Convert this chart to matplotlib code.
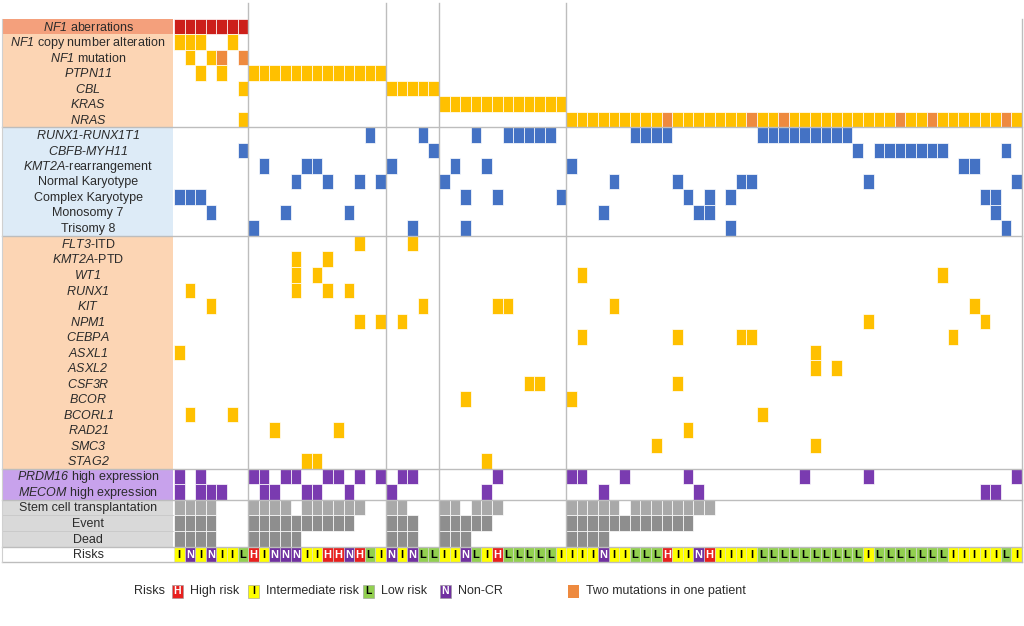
import matplotlib
matplotlib.use("Agg")
import matplotlib.pyplot as plt
from matplotlib.patches import Rectangle

plt.rcParams['font.family'] = ['Liberation Sans', 'DejaVu Sans']
# everything inside $...$ is a gene name -> italic (digits too)
plt.rcParams['mathtext.fontset'] = 'custom'
plt.rcParams['mathtext.it'] = 'Liberation Sans:italic'
plt.rcParams['mathtext.rm'] = 'Liberation Sans:italic'

# patients are grouped as NF1 | PTPN11 | CBL | KRAS | NRAS  (7/13/5/12/43)
n_patients = 80
group_sizes = [7, 13, 5, 12, 43]

# x = alteration, o = two mutations in one patient, r = NF1 aberration
ras_labels = ["$\\mathrm{NF1}$ aberrations", "$\\mathrm{NF1}$ copy number alteration",
              "$\\mathrm{NF1}$ mutation", "$\\mathrm{PTPN11}$", "$\\mathrm{CBL}$",
              "$\\mathrm{KRAS}$", "$\\mathrm{NRAS}$"]
ras_rows = [
    "rrrrrrr|.............|.....|............|...........................................",
    "xxx..x.|.............|.....|............|...........................................",
    ".x.xo.o|.............|.....|............|...........................................",
    "..x.x..|xxxxxxxxxxxxx|.....|............|...........................................",
    "......x|.............|xxxxx|............|...........................................",
    ".......|.............|.....|xxxxxxxxxxxx|...........................................",
    "......x|.............|.....|............|xxxxxxxxxoxxxxxxxoxxoxxxxxxxxxxoxxoxxxxxxox",
]

cyto_labels = ["$\\mathrm{RUNX1}$-$\\mathrm{RUNX1T1}$", "$\\mathrm{CBFB}$-$\\mathrm{MYH11}$",
               "$\\mathrm{KMT2A}$-rearrangement", "Normal Karyotype", "Complex Karyotype",
               "Monosomy 7", "Trisomy 8"]
cyto_rows = [
    ".......|...........x.|...x.|...x..xxxxx.|......xxxx........xxxxxxxxx................",
    "......x|.............|....x|............|...........................x.xxxxxxx.....x.",
    ".......|.x...xx......|x....|.x..x.......|x....................................xx....",
    ".......|....x..x..x.x|.....|x...........|....x.....x.....xx..........x.............x",
    "xxx....|.............|.....|..x..x.....x|...........x.x.x.......................xx..",
    "...x...|...x.....x...|.....|............|...x........xx..........................x..",
    ".......|x............|..x..|..x.........|...............x.........................x.",
]

mut_labels = ["$\\mathrm{FLT3}$-ITD", "$\\mathrm{KMT2A}$-PTD", "$\\mathrm{WT1}$", "$\\mathrm{RUNX1}$",
              "$\\mathrm{KIT}$", "$\\mathrm{NPM1}$", "$\\mathrm{CEBPA}$", "$\\mathrm{ASXL1}$",
              "$\\mathrm{ASXL2}$", "$\\mathrm{CSF3R}$", "$\\mathrm{BCOR}$", "$\\mathrm{BCORL1}$",
              "$\\mathrm{RAD21}$", "$\\mathrm{SMC3}$", "$\\mathrm{STAG2}$"]
mut_rows = [
    ".......|..........x..|..x..|............|...........................................",
    ".......|....x..x.....|.....|............|...........................................",
    ".......|....x.x......|.....|............|.x.................................x.......",
    ".x.....|....x..x.x...|.....|............|...........................................",
    "...x...|.............|...x.|.....xx.....|....x.................................x....",
    ".......|..........x.x|.x...|............|............................x..........x...",
    ".......|.............|.....|............|.x........x.....xx..................x......",
    "x......|.............|.....|............|.......................x...................",
    ".......|.............|.....|............|.......................x.x.................",
    ".......|.............|.....|........xx..|..........x................................",
    ".......|.............|.....|..x.........|x..........................................",
    ".x...x.|.............|.....|............|..................x........................",
    ".......|..x.....x....|.....|............|...........x...............................",
    ".......|.............|.....|............|........x..............x...................",
    ".......|.....xx......|.....|....x.......|...........................................",
]

expr_labels = ["$\\mathrm{PRDM16}$ high expression", "$\\mathrm{MECOM}$ high expression"]
expr_rows = [
    "x.x....|xx.xx..xx.x.x|.xx..|.....x......|xx...x.....x..........x.....x.............x",
    "x.xxx..|.xx..xx..x...|x....|....x.......|...x........x..........................xx..",
]

clin_labels = ["Stem cell transplantation", "Event", "Dead"]
clin_rows = [
    "xxxx...|xxxx.xxxxxx..|xx...|xx.xxx......|xxxxx.xxxxxxxx.............................",
    "xxxx...|xxxxxxxxxx...|xxx..|xxxxx.......|xxxxxxxxxxxx...............................",
    "xxxx...|xxxxx........|xxx..|xxx.........|xxxx.......................................",
]

# H = high, I = intermediate, L = low, N = non-CR
risks = "ININIIL|HINNNIIHHNHLI|NINLL|IINLIHLLLLLI|IIINIILLLHIINHIIIILLLLLLLLLLILLLLLLLIIIIILI"


def parse(s):
    s = s.replace('|', '')
    assert len(s) == n_patients, (len(s), s)
    return s


sections = [
    (ras_labels, ras_rows, '#FFC000', '#FCD5B4'),
    (cyto_labels, cyto_rows, '#4472C4', '#DDEBF7'),
    (mut_labels, mut_rows, '#FFC000', '#FCD5B4'),
    (expr_labels, expr_rows, '#7A3BB0', '#C8A2EC'),
    (clin_labels, clin_rows, '#8E8E8E', '#D9D9D9'),
]

fig = plt.figure(figsize=(10.24, 6.26), dpi=100)
ax = fig.add_axes([0, 0, 1, 1])
cw, rh, x0, y0 = 10.6, 15.53, 174, 18.5
ax.set_xlim(-x0 / cw, (1024 - x0) / cw)
ax.set_ylim((626 - y0) / rh, -y0 / rh)
ax.axis('off')

label_x = -8.1
panel_left = -16.2
txt_color = '#2b2b2b'

r = 0
for labels, rows, fill, bg in sections:
    for i, (lab, pat) in enumerate(zip(labels, rows)):
        pat = parse(pat)
        row_bg = '#F4A07C' if r == 0 else bg
        ax.add_patch(Rectangle((panel_left, r), -0.1 - panel_left, 1, facecolor=row_bg,
                               edgecolor='none'))
        colour = fill
        if labels is clin_labels and i == 0:
            colour = '#A9A9A9'
        for ch, c in (('x', colour), ('o', '#EE8A3F'), ('r', '#CC1F1A')):
            cols = [k for k, v in enumerate(pat) if v == ch]
            if cols:
                ax.bar(cols, 1, width=1, bottom=r, align='edge', color=c,
                       edgecolor='white', linewidth=0.5)
        ax.text(label_x, r + 0.55, lab, ha='center', va='center', fontsize=9, color=txt_color)
        r += 1

# risk row
risk_pat = parse(risks)
risk_colors = {'H': '#E8201E', 'I': '#FFFF00', 'L': '#92D050', 'N': '#7030A0'}
risk_text = {'H': 'white', 'I': 'black', 'L': 'black', 'N': 'white'}
ax.add_patch(Rectangle((panel_left, r), -0.1 - panel_left, 1, facecolor='white',
                       edgecolor='none'))
ax.text(label_x, r + 0.55, "Risks", ha='center', va='center', fontsize=9, color=txt_color)
for key, c in risk_colors.items():
    cols = [k for k, v in enumerate(risk_pat) if v == key]
    ax.bar(cols, 1, width=1, bottom=r, align='edge', color=c, edgecolor='#d8d8d8', linewidth=0.4)
    for k in cols:
        ax.text(k + 0.5, r + 0.55, key, ha='center', va='center', fontsize=8,
                fontweight='bold', color=risk_text[key])
n_rows = r + 1

# separators
line_c = '#BDBDBD'
for yb in [7, 14, 29, 31, 34, 35]:
    ax.plot([panel_left, n_patients], [yb, yb], color=line_c, lw=1, zorder=3)
for yb in [32, 33]:
    ax.plot([panel_left, -0.1], [yb, yb], color='#c8c8c8', lw=0.6, zorder=3)
edges = [0]
for g in group_sizes:
    edges.append(edges[-1] + g)
for xb in edges[1:-1]:
    ax.plot([xb, xb], [-1.0, n_rows - 1], color=line_c, lw=1, zorder=3)
ax.plot([n_patients, n_patients], [0, n_rows], color=line_c, lw=1, zorder=3)
ax.plot([panel_left, panel_left], [0, n_rows], color='#d0d0d0', lw=0.8, zorder=3)

# legend (figure coordinates)
ly = (626 - 591) / 626
bw, bh = 11 / 1024, 13 / 626
fig.text(134 / 1024, ly, "Risks", fontsize=9, color=txt_color, va='center')
legend_items = [(172, 'H', "High risk"), (248, 'I', "Intermediate risk"),
                (363, 'L', "Low risk"), (440, 'N', "Non-CR")]
for px, key, name in legend_items:
    ax.add_patch(Rectangle((px / 1024, ly - bh / 2), bw, bh, transform=fig.transFigure,
                           facecolor=risk_colors[key], edgecolor='#999999', lw=0.4))
    fig.text(px / 1024 + bw / 2, ly, key, fontsize=7.5, fontweight='bold',
             color=risk_text[key], ha='center', va='center')
    fig.text(px / 1024 + bw + 7 / 1024, ly, name, fontsize=9, color=txt_color, va='center')
ax.add_patch(Rectangle((568 / 1024, ly - bh / 2), bw, bh, transform=fig.transFigure,
                       facecolor='#EE8A3F', edgecolor='none'))
fig.text(586 / 1024, ly, "Two mutations in one patient", fontsize=9, color=txt_color, va='center')

fig.savefig("out.png", dpi=100)
